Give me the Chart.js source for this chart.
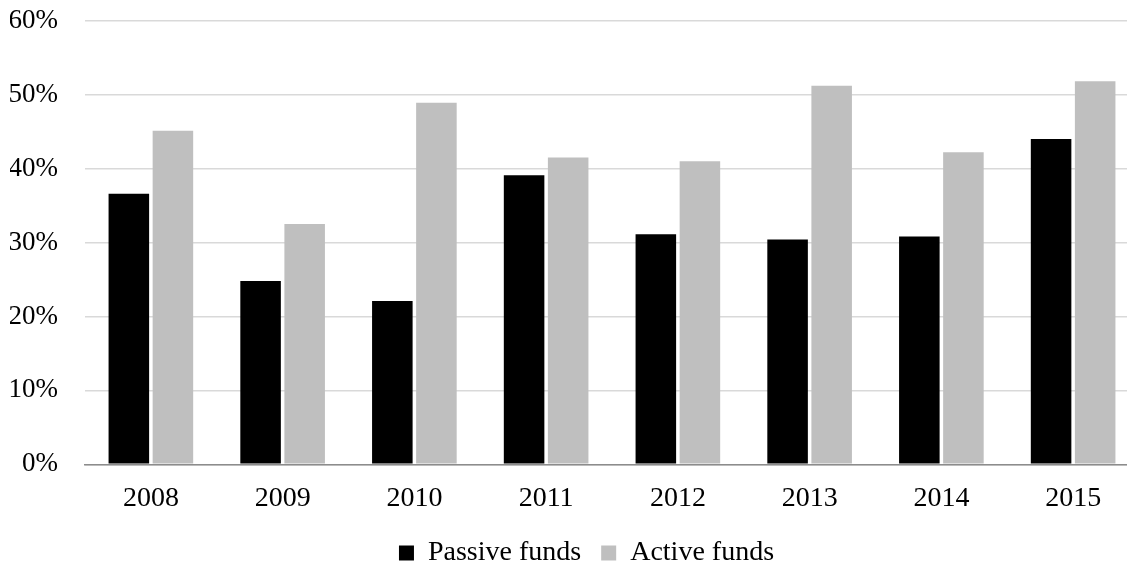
<!DOCTYPE html>
<html>
<head>
<meta charset="utf-8">
<script src="https://cdn.jsdelivr.net/npm/chart.js@4/dist/chart.umd.min.js"></script>
<style>
  html, body { margin: 0; padding: 0; background: #fff; overflow: hidden; }
  #wrap { width: 1139px; height: 565px; }
</style>
</head>
<body>
<div id="wrap"><canvas id="myChart"></canvas></div>
<script>
var years = ["2008", "2009", "2010", "2011", "2012", "2013", "2014", "2015"];
var passiveFunds = [36.6, 24.8, 22.1, 39.1, 31.1, 30.4, 30.8, 44.0];
var activeFunds = [45.1, 32.5, 48.9, 41.5, 41.0, 51.2, 42.2, 51.8];
var yTicks = [0, 10, 20, 30, 40, 50, 60];

var serif = "'Liberation Serif', 'Times New Roman', serif";

// the legend in the original sits a bit right of the canvas centre
var legendNudge = {
    id: 'legendNudge',
    afterLayout: function (chart) {
        var lg = chart.legend;
        lg.left += 12;
        lg.right += 12;
        lg.legendHitBoxes.forEach(function (b) { b.left += 12; });
    }
};

var ctx = document.getElementById("myChart").getContext('2d');
var myChart = new Chart(ctx, {
    type: 'bar',
    data: {
        labels: years,
        datasets: [{
            label: 'Passive funds',
            data: passiveFunds,
            backgroundColor: '#000000',
            barPercentage: 0.92,
            categoryPercentage: 0.669
        }, {
            label: 'Active funds',
            data: activeFunds,
            backgroundColor: '#bfbfbf',
            barPercentage: 0.92,
            categoryPercentage: 0.669
        }]
    },
    plugins: [legendNudge],
    options: {
        responsive: true,
        maintainAspectRatio: false,
        animation: false,
        layout: { padding: { left: 10, top: 0, right: 0, bottom: -12 } },
        plugins: {
            legend: {
                position: 'bottom',
                labels: {
                    boxWidth: 15,
                    boxHeight: 15,
                    padding: 20,
                    color: '#000',
                    font: { family: serif, size: 28 }
                }
            },
            tooltip: { enabled: false }
        },
        scales: {
            x: {
                afterFit: function (axis) { axis.height = 54.7; },
                grid: { display: false, drawTicks: false },
                border: { display: true, color: '#8c8c8c', width: 1.5 },
                ticks: {
                    color: '#000',
                    padding: 17.5,
                    font: { family: serif, size: 28 }
                }
            },
            y: {
                min: 0,
                max: 60,
                afterBuildTicks: function (axis) {
                    axis.ticks = yTicks.map(function (v) { return { value: v }; });
                },
                afterFit: function (axis) {
                    axis.width = 75;
                    axis.paddingTop = 20.7;
                    axis.paddingBottom = 0;
                },
                grid: { color: '#d9d9d9', lineWidth: 1.5, drawTicks: false },
                border: { display: false },
                ticks: {
                    color: '#000',
                    padding: 27,
                    font: { family: serif, size: 27 },
                    callback: function (v) { return v + '%'; }
                }
            }
        }
    }
});
</script>
</body>
</html>
